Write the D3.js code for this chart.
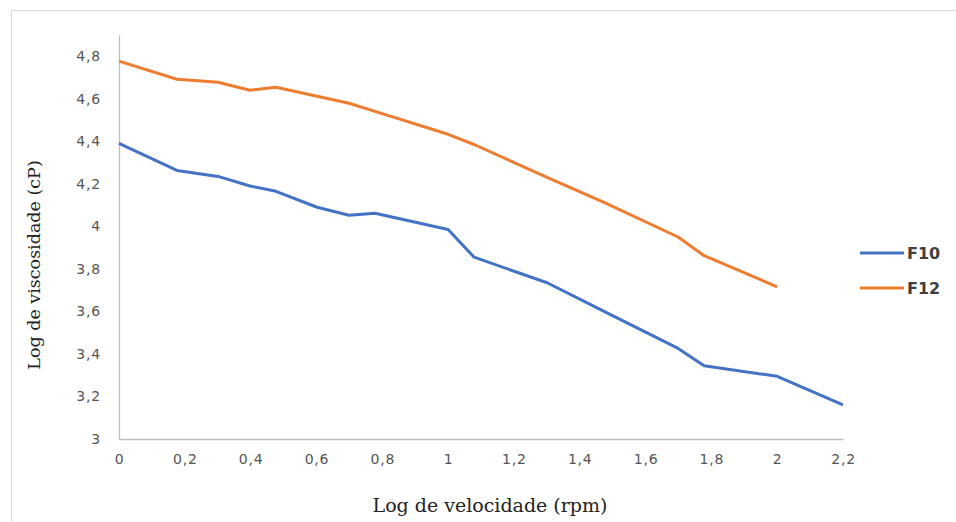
<!DOCTYPE html>
<html><head><meta charset="utf-8">
<script src="https://cdn.jsdelivr.net/npm/d3@7"></script>
<style>body{margin:0;background:#fff}svg{display:block}</style>
</head><body>
<svg id="c" width="956" height="522"></svg>
<script>
const logRpm = [0, 0.176, 0.301, 0.398, 0.477, 0.602, 0.699, 0.778, 1, 1.079, 1.301, 1.477, 1.699, 1.778, 2, 2.2];
const f10 = [4.39, 4.263, 4.235, 4.19, 4.165, 4.09, 4.052, 4.062, 3.985, 3.855, 3.735, 3.598, 3.426, 3.344, 3.295, 3.16];
const f12 = [4.777, 4.692, 4.678, 4.64, 4.654, 4.612, 4.579, 4.541, 4.433, 4.385, 4.23, 4.11, 3.95, 3.862, 3.716];
const seriesNames = ["F10", "F12"];
const colors = ["#4472C4", "#ED7D31"];
const xTicks = [0, 0.2, 0.4, 0.6, 0.8, 1, 1.2, 1.4, 1.6, 1.8, 2, 2.2];
const yTicks = [3, 3.2, 3.4, 3.6, 3.8, 4, 4.2, 4.4, 4.6, 4.8];

const svg = d3.select("#c");
const fmt = d => String(+d.toFixed(1)).replace(".", ",");

svg.append("rect").attr("x", 11.5).attr("y", 10.5).attr("width", 960).attr("height", 530)
  .attr("fill", "#fff").attr("stroke", "#d9d9d9");

const x = d3.scaleLinear().domain([0, 2.2]).range([119, 843]);
const y = d3.scaleLinear().domain([3, 4.9]).range([439, 35]);

// axes
const yAxis = svg.append("g").attr("transform", "translate(119,0)")
  .call(d3.axisLeft(y).tickValues(yTicks).tickFormat(fmt).tickSize(0).tickPadding(18));
yAxis.select(".domain").attr("stroke", "#bfbfbf").attr("stroke-width", 1.3);
yAxis.selectAll("text").attr("font-family", "DejaVu Sans").attr("font-size", 14)
  .attr("fill", "#555").attr("letter-spacing", "0.8px");

const xAxis = svg.append("g").attr("transform", "translate(0,439)")
  .call(d3.axisBottom(x).tickValues(xTicks).tickFormat(fmt).tickSize(0).tickPadding(15));
xAxis.select(".domain").attr("stroke", "#bfbfbf").attr("stroke-width", 1.3);
xAxis.selectAll("text").attr("font-family", "DejaVu Sans").attr("font-size", 14)
  .attr("fill", "#555").attr("letter-spacing", "0.8px");

// lines
const data = [f10, f12];
const line = d3.line().x((d, i) => x(logRpm[i])).y(d => y(d));
data.forEach((s, k) => {
  svg.append("path").datum(s).attr("d", line).attr("fill", "none")
    .attr("stroke", colors[k]).attr("stroke-width", 3).attr("stroke-linejoin", "round");
});

// legend
seriesNames.forEach((n, k) => {
  const ly = 253 + k * 35;
  svg.append("line").attr("x1", 860).attr("x2", 904).attr("y1", ly).attr("y2", ly)
    .attr("stroke", colors[k]).attr("stroke-width", 3);
  svg.append("text").attr("x", 907).attr("y", ly + 6).text(n)
    .attr("font-family", "DejaVu Sans").attr("font-weight", "bold").attr("font-size", 16)
    .attr("fill", "#404040");
});

// titles
svg.append("text").attr("x", 490).attr("y", 512).attr("text-anchor", "middle")
  .attr("font-family", "DejaVu Serif").attr("font-size", 19).attr("fill", "#222")
  .text("Log de velocidade (rpm)");
svg.append("text").attr("transform", "translate(40,265) rotate(-90)").attr("text-anchor", "middle")
  .attr("font-family", "DejaVu Serif").attr("font-size", 17.5).attr("fill", "#222")
  .text("Log de viscosidade (cP)");
</script>
</body></html>
